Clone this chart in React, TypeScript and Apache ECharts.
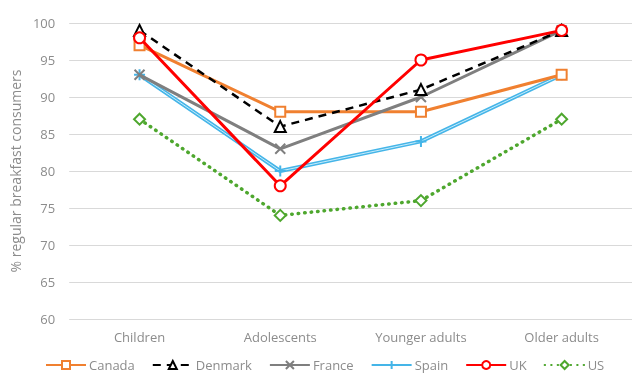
import React, { useEffect, useRef } from "react";
import * as echarts from "echarts";

const categories = ["Children", "Adolescents", "Younger adults", "Older adults"];
const canada = [97, 88, 88, 93];
const denmark = [99, 86, 91, 99];
const france = [93, 83, 90, 99];
const spain = [93, 80, 84, 93];
const uk = [98, 78, 95, 99];
const us = [87, 74, 76, 87];
const yTicks = { min: 60, max: 100, interval: 5 };

const FONT = "'Open Sans', sans-serif";
const GRAY = "#8c8c8c";
const X_PATH = "path://M0,0L10,10M10,0L0,10";
const PLUS_PATH = "path://M5,0L5,10M0,5L10,5";

export default function App() {
  const ref = useRef<HTMLDivElement>(null);
  useEffect(() => {
    const chart = echarts.init(ref.current!, null, { renderer: "svg" });
    const base = (name: string, data: number[], color: string, symbol: string, size: number, lineType: any, width: number, z = 2, cap = "butt") => ({
      name,
      type: "line",
      data,
      symbol,
      symbolSize: size,
      z,
      lineStyle: { color, width, type: lineType, cap },
      itemStyle: { color: "#fff", borderColor: color, borderWidth: 2 },
      emphasis: { disabled: true },
    });
    chart.setOption({
      animation: false,
      textStyle: { fontFamily: FONT },
      grid: { left: 65, top: 23, width: 580, bottom: 55 },
      xAxis: {
        type: "category",
        data: categories,
        axisLine: { show: false },
        axisTick: { show: false },
        axisLabel: { color: GRAY, fontSize: 13, fontFamily: FONT, margin: 11 },
      },
      yAxis: {
        type: "value",
        min: yTicks.min,
        max: yTicks.max,
        interval: yTicks.interval,
        name: "% regular breakfast consumers",
        nameLocation: "middle",
        nameGap: 43,
        nameTextStyle: { color: GRAY, fontSize: 14, fontFamily: FONT },
        axisLabel: { color: GRAY, fontSize: 13, fontFamily: FONT, margin: 14 },
        splitLine: { lineStyle: { color: "#d9d9d9", width: 1 } },
        axisLine: { show: false },
        axisTick: { show: false },
      },
      legend: {
        left: 45,
        top: 358,
        padding: 0,
        itemWidth: 40,
        itemHeight: 10,
        itemGap: 17,
        data: ["Canada", "Denmark", "France", "Spain", "UK", "US"],
        textStyle: { color: GRAY, fontSize: 13, lineHeight: 14, fontFamily: FONT, padding: [0, 0, 0, -2] },
      },
      series: [
        base("Canada", canada, "#f08030", "rect", 10, "solid", 3, 3),
        base("Denmark", denmark, "#000000", "triangle", 11, [8, 6], 2.5, 4),
        base("France", france, "#7f7f7f", X_PATH, 10, "solid", 3, 3),
        base("Spain", spain, "#45b5e8", PLUS_PATH, 11, "solid", 4, 2),
        {
          name: "SpainInner",
          type: "line",
          data: spain,
          symbol: "none",
          z: 2,
          lineStyle: { color: "#c8ecfb", width: 1 },
          emphasis: { disabled: true },
        },
        base("UK", uk, "#ff0000", "circle", 11, "solid", 3, 5),
        base("US", us, "#4ea72e", "diamond", 11, [0.5, 6], 3.5, 3, "round"),
      ],
    });
    return () => chart.dispose();
  }, []);
  return <div ref={ref} style={{ position: "fixed", left: 0, top: 0, width: 632, height: 374 }} />;
}
